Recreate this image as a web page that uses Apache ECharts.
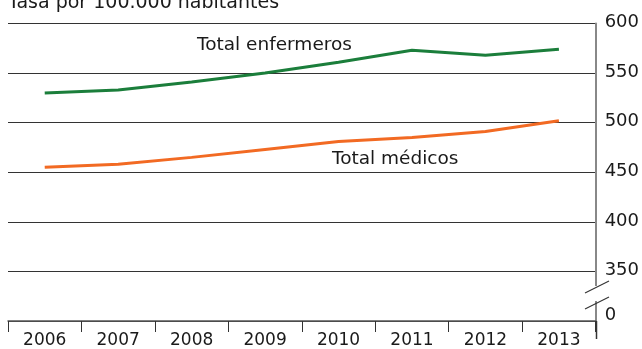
<!DOCTYPE html>
<html>
<head>
<meta charset="utf-8">
<script src="https://cdn.jsdelivr.net/npm/echarts@6/dist/echarts.min.js"></script>
<style>
  html, body { margin: 0; padding: 0; background: #fff; }
  #chart { width: 642px; height: 349px; }
</style>
</head>
<body>
<div id="chart"></div>
<script>
// datos
const years = ["2006", "2007", "2008", "2009", "2010", "2011", "2012", "2013"];
const enfermeros = [530, 533, 541, 550, 561, 573, 568, 574];
const medicos = [455, 458, 465, 473, 481, 485, 491, 502];
const yTicks = [300, 350, 400, 450, 500, 550, 600]; // 300 se muestra como 0 (eje cortado)

const FONT = "DejaVu Sans";
const textColor = "#1a1a1a";

const chartDom = document.getElementById("chart");
const myChart = echarts.init(chartDom);

const option = {
  animation: false,
  grid: { left: 8, right: 46, top: 23.5, bottom: 28 },
  xAxis: {
    type: "category",
    data: years,
    boundaryGap: true,
    axisLine: { show: true, lineStyle: { color: "#555", width: 1.5 } },
    axisTick: { show: true, length: 11, lineStyle: { color: "#333", width: 1 } },
    axisLabel: { color: textColor, fontFamily: FONT, fontSize: 17, margin: 11 },
  },
  yAxis: {
    type: "value",
    position: "right",
    min: yTicks[0],
    max: yTicks[yTicks.length - 1],
    interval: 50,
    axisLine: { show: true, lineStyle: { color: "#888", width: 2 } },
    axisTick: { show: false },
    splitLine: { show: true, lineStyle: { color: "#333", width: 1.2 } },
    axisLabel: {
      color: textColor,
      fontFamily: FONT,
      fontSize: 18,
      margin: 9,
      padding: [0, 0, 2, 0],
      formatter: function (v) {
        return v === yTicks[0] ? "{z|0}" : String(v);
      },
      rich: {
        z: { fontFamily: FONT, fontSize: 18, color: textColor, padding: [0, 0, 10, 0] },
      },
    },
  },
  series: [
    {
      name: "Total enfermeros",
      type: "line",
      data: enfermeros,
      symbol: "none",
      lineStyle: { color: "#1b7e3b", width: 3 },
    },
    {
      name: "Total médicos",
      type: "line",
      data: medicos,
      symbol: "none",
      lineStyle: { color: "#f26a23", width: 3 },
    },
  ],
  graphic: [
    {
      type: "text",
      left: 8,
      top: -6,
      style: { text: "Tasa por 100.000 habitantes", fill: textColor, font: "19px " + FONT },
    },
    {
      type: "text",
      left: 197,
      top: 36,
      style: { text: "Total enfermeros", fill: textColor, font: "18.5px " + FONT },
    },
    {
      type: "text",
      left: 332,
      top: 150,
      style: { text: "Total médicos", fill: textColor, font: "18.5px " + FONT },
    },
    // corte del eje
    { type: "rect", shape: { x: 592, y: 286, width: 9, height: 15 }, style: { fill: "#fff" }, z: 100 },
    { type: "line", shape: { x1: 585, y1: 293, x2: 609, y2: 281 }, style: { stroke: "#333", lineWidth: 1.2 }, z: 101 },
    { type: "line", shape: { x1: 585, y1: 309, x2: 609, y2: 297 }, style: { stroke: "#333", lineWidth: 1.2 }, z: 101 },
    { type: "line", shape: { x1: 596.5, y1: 321, x2: 596.5, y2: 339 }, style: { stroke: "#333", lineWidth: 1.5 }, z: 101 },
  ],
};

option && myChart.setOption(option, true);
</script>
</body>
</html>
